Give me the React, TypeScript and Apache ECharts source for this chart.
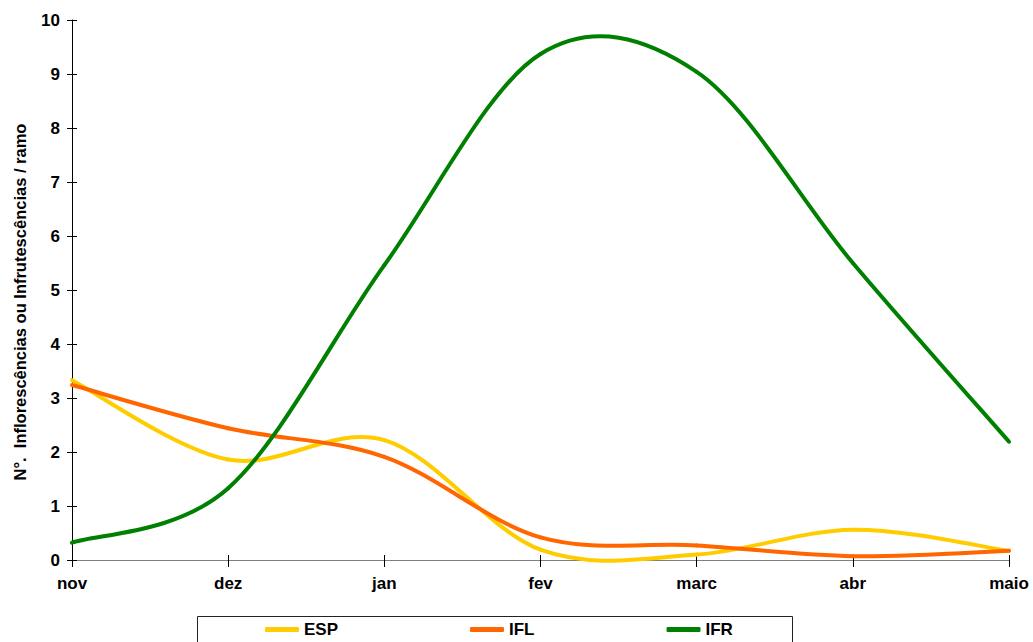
import React, { useEffect, useRef } from "react";
import * as echarts from "echarts";

const months = ["nov", "dez", "jan", "fev", "marc", "abr", "maio"];
const espValues = [3.33, 1.86, 2.22, 0.19, 0.1, 0.56, 0.17];
const iflValues = [3.24, 2.44, 1.91, 0.42, 0.27, 0.07, 0.17];
const ifrValues = [0.32, 1.33, 5.46, 9.37, 9.04, 5.5, 2.19];
const yTicks = [0, 10, 1];

const FONT = "'Liberation Sans', Arial, Helvetica, sans-serif";

// Smoothed line drawn as cubic Bézier segments (Catmull-Rom style control points),
// positioned with the grid's own coordinate system.
function smoothSeries(name: string, values: number[], color: string) {
  const n = values.length;
  return {
    name,
    type: "custom",
    xAxisIndex: 0,
    yAxisIndex: 0,
    itemStyle: { color },
    data: values.map((v, i) => [i, v]),
    renderItem: (params: any, api: any) => {
      const i = params.dataIndex;
      if (i >= n - 1) return null;
      const p = (k: number) => {
        const kk = Math.max(0, Math.min(n - 1, k));
        return api.coord([kk, values[kk]]);
      };
      const p0 = p(i - 1);
      const p1 = p(i);
      const p2 = p(i + 1);
      const p3 = p(i + 2);
      return {
        type: "bezierCurve",
        shape: {
          x1: p1[0],
          y1: p1[1],
          x2: p2[0],
          y2: p2[1],
          cpx1: p1[0] + (p2[0] - p0[0]) / 6,
          cpy1: p1[1] + (p2[1] - p0[1]) / 6,
          cpx2: p2[0] - (p3[0] - p1[0]) / 6,
          cpy2: p2[1] - (p3[1] - p1[1]) / 6,
        },
        style: { stroke: color, lineWidth: 4, fill: "none", lineCap: "round" },
      };
    },
  };
}

export default function App() {
  const ref = useRef<HTMLDivElement>(null);

  useEffect(() => {
    if (!ref.current) return;
    const chart = echarts.init(ref.current, undefined, { renderer: "svg" });
    const [yMin, yMax, yStep] = yTicks;
    const labelStyle = { color: "#000", fontFamily: FONT, fontWeight: "bold" as const, fontSize: 17 };

    chart.setOption({
      animation: false,
      backgroundColor: "#fff",
      grid: { left: 72, right: 24, top: 20, bottom: 82, containLabel: false },
      xAxis: [
        {
          type: "category",
          data: months,
          boundaryGap: false,
          axisLine: { lineStyle: { color: "#808080", width: 1 } },
          axisTick: { show: true, length: 7, inside: false, lineStyle: { color: "#000" } },
          axisLabel: { ...labelStyle, margin: 15 },
          splitLine: { show: false },
        },
        {
          type: "category",
          data: months,
          boundaryGap: false,
          position: "bottom",
          axisLine: { show: false },
          axisTick: { show: true, length: 5, inside: true, lineStyle: { color: "#000" } },
          axisLabel: { show: false },
          splitLine: { show: false },
        },
      ],
      yAxis: [
        {
          type: "value",
          min: yMin,
          max: yMax,
          interval: yStep,
          axisLine: { show: true, lineStyle: { color: "#000", width: 1 } },
          axisTick: { show: true, length: 5, inside: false, lineStyle: { color: "#000" } },
          axisLabel: { ...labelStyle, margin: 12 },
          splitLine: { show: false },
        },
        {
          type: "value",
          min: yMin,
          max: yMax,
          interval: yStep,
          position: "left",
          axisLine: { show: false },
          axisTick: { show: true, length: 5, inside: true, lineStyle: { color: "#000" } },
          axisLabel: { show: false },
          splitLine: { show: false },
        },
      ],
      legend: {
        left: 260,
        top: 616,
        itemWidth: 34,
        itemHeight: 5,
        itemGap: 132,
        icon: "roundRect",
        textStyle: { ...labelStyle },
        data: [
          { name: "ESP", itemStyle: { color: "#FFCC00" } },
          { name: "IFL", itemStyle: { color: "#FF6600" } },
          { name: "IFR", itemStyle: { color: "#008000" } },
        ],
      },
      graphic: [
        {
          type: "rect",
          shape: { x: 197.5, y: 616.5, width: 595, height: 40 },
          style: { fill: "none", stroke: "#222", lineWidth: 1 },
          silent: true,
        },
        {
          type: "text",
          x: 20,
          y: 302,
          rotation: Math.PI / 2,
          style: {
            text: "N°.  Inflorescências ou Infrutescências / ramo",
            fontFamily: FONT,
            fontWeight: "bold",
            fontSize: 16.5,
            fill: "#000",
            align: "center",
            verticalAlign: "middle",
          },
        },
      ],
      series: [
        smoothSeries("ESP", espValues, "#FFCC00"),
        smoothSeries("IFL", iflValues, "#FF6600"),
        smoothSeries("IFR", ifrValues, "#008000"),
      ],
    });

    return () => chart.dispose();
  }, []);

  return <div ref={ref} style={{ width: 1033, height: 642, position: "absolute", left: 0, top: 0 }} />;
}
